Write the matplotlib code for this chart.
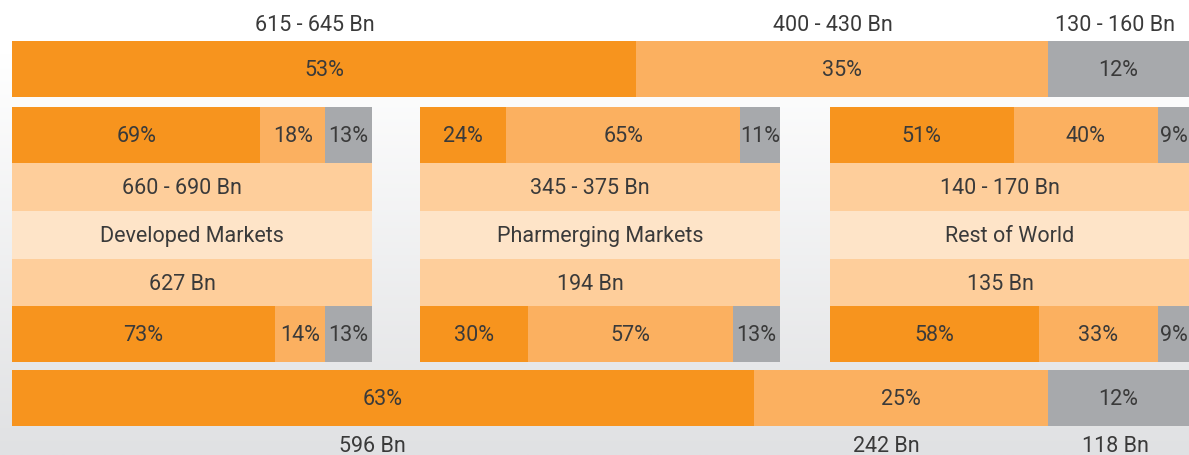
import matplotlib.pyplot as plt
import matplotlib.transforms as mtransforms
import numpy as np

plt.rcParams['font.family'] = ['Roboto', 'DejaVu Sans']

# data
total_top_pct = [53, 35, 12]
total_top_labels = ["615 - 645 Bn", "400 - 430 Bn", "130 - 160 Bn"]
total_bottom_pct = [63, 25, 12]
total_bottom_labels = ["596 Bn", "242 Bn", "118 Bn"]

markets = ["Developed Markets", "Pharmerging Markets", "Rest of World"]
future_pct = [[69, 18, 13], [24, 65, 11], [51, 40, 9]]
future_value = ["660 - 690 Bn", "345 - 375 Bn", "140 - 170 Bn"]
current_value = ["627 Bn", "194 Bn", "135 Bn"]
current_pct = [[73, 14, 13], [30, 57, 13], [58, 33, 9]]

seg_colors = ["#F7941E", "#FBB060", "#A7A9AC"]
band_color = "#FECE9B"
name_color = "#FEE4C8"
txt_color = "#3a3a3a"
FS = 15.5
FW = "normal"

W, H = 1189, 455
fig = plt.figure(figsize=(W / 100, H / 100), dpi=100)

# background gradient
bg = fig.add_axes([0, 0, 1, 1], zorder=-10)
grad = np.linspace(0, 1, 256)[:, None]
top_col = np.array([1.0, 1.0, 1.0])
bot_col = np.array([0xE0, 0xE1, 0xE3]) / 255
start = 0.12
t = np.clip((grad - start) / (1 - start), 0, 1)
img = top_col + (bot_col - top_col) * t
bg.imshow(img[:, None, :].repeat(2, axis=1), aspect="auto", extent=[0, 1, 0, 1], origin="upper")
bg.set_axis_off()


def px_axes(x0, y0, x1, y1):
    return fig.add_axes([x0 / W, 1 - y1 / H, (x1 - x0) / W, (y1 - y0) / H])


def shift(ax, dx, dy=-1.5):
    return ax.transData + mtransforms.ScaledTranslation(dx / 100, dy / 100, fig.dpi_scale_trans)


def label(ax, x, y, s, dx=0):
    ax.text(x, y, s, ha="center", va="center", fontsize=FS, fontweight=FW,
            color=txt_color, transform=shift(ax, dx))


def pct_row(ax, y, pcts, height):
    lefts = np.concatenate([[0], np.cumsum(pcts)[:-1]])
    ax.barh(y, pcts, left=lefts, height=height, color=seg_colors, linewidth=0)
    for l, p in zip(lefts, pcts):
        label(ax, l + p / 2, y, f"{p}%")
    return lefts


def clean(ax):
    ax.set_axis_off()
    ax.set_xlim(0, 100)


# top total bar with labels above
ax_top = px_axes(12, 0, 1189, 97)
clean(ax_top)
ax_top.set_ylim(97, 0)
lefts = pct_row(ax_top, 69, total_top_pct, 56)
for l, p, lab, dx in zip(lefts, total_top_pct, total_top_labels, [-9, -9, -3]):
    label(ax_top, l + p / 2, 24, lab, dx)

# market panels
panel_x = [(12, 372), (420, 780), (830, 1190)]
for i, (x0, x1) in enumerate(panel_x):
    ax = px_axes(x0, 107, x1, 362)
    clean(ax)
    ax.set_ylim(362, 107)
    pct_row(ax, 135, future_pct[i], 56)
    ax.axhspan(163, 211, color=band_color, linewidth=0)
    ax.axhspan(211, 259, color=name_color, linewidth=0)
    ax.axhspan(259, 306, color=band_color, linewidth=0)
    label(ax, 50, 187, future_value[i], -10)
    label(ax, 50, 235, markets[i])
    label(ax, 50, 283, current_value[i], -10)
    pct_row(ax, 334, current_pct[i], 56)

# bottom total bar with labels below
ax_bot = px_axes(12, 370, 1189, 455)
clean(ax_bot)
ax_bot.set_ylim(455, 370)
lefts = pct_row(ax_bot, 398, total_bottom_pct, 56)
for l, p, lab, dx in zip(lefts, total_bottom_pct, total_bottom_labels, [-10, -14, -3]):
    label(ax_bot, l + p / 2, 445, lab, dx)

fig.savefig("out.png", dpi=100)
